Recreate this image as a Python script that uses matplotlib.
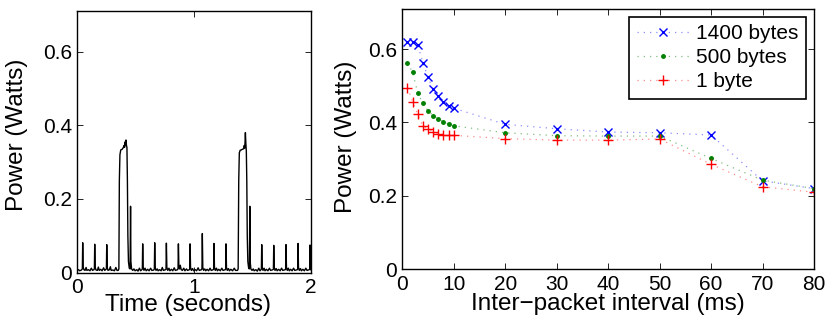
import matplotlib
matplotlib.use("Agg")
import matplotlib.pyplot as plt

plt.rcParams['font.family'] = ['Liberation Sans', 'DejaVu Sans']

# ---- Left panel: power trace (time s, power W) ----
trace_t = [
    0.000, 0.010, 0.020, 0.035, 0.043, 0.046, 0.050, 0.056, 0.066, 0.075, 0.082, 0.095, 0.108, 0.120, 0.130,
    0.142, 0.146, 0.149, 0.153, 0.160, 0.172, 0.180, 0.188, 0.200, 0.212, 0.225, 0.235,
    0.246, 0.249, 0.252, 0.256, 0.263, 0.275, 0.283, 0.290, 0.305, 0.318, 0.330, 0.340,
    0.350, 0.356, 0.360, 0.365, 0.372, 0.385, 0.395, 0.400, 0.405, 0.410, 0.413, 0.417, 0.421, 0.425,
    0.429, 0.433, 0.438, 0.445, 0.452, 0.456, 0.459, 0.465, 0.475, 0.485, 0.495, 0.510, 0.520, 0.532, 0.542,
    0.553, 0.557, 0.560, 0.564, 0.571, 0.580, 0.590, 0.603, 0.615, 0.628, 0.638,
    0.655, 0.660, 0.663, 0.667, 0.674, 0.685, 0.692, 0.705, 0.718, 0.728, 0.737,
    0.757, 0.760, 0.763, 0.767, 0.775, 0.785, 0.793, 0.806, 0.818, 0.830, 0.840,
    0.860, 0.863, 0.866, 0.870, 0.876, 0.882, 0.890, 0.900, 0.912, 0.922, 0.935, 0.945,
    0.960, 0.963, 0.966, 0.970, 0.977, 0.988, 0.996, 1.010, 1.022, 1.035, 1.045,
    1.065, 1.068, 1.071, 1.075, 1.082, 1.092, 1.100, 1.112, 1.125, 1.137, 1.147,
    1.165, 1.168, 1.171, 1.175, 1.182, 1.192, 1.200, 1.212, 1.225, 1.238, 1.248,
    1.268, 1.271, 1.274, 1.278, 1.285, 1.295, 1.303, 1.316, 1.330, 1.345, 1.355,
    1.372, 1.378, 1.383, 1.388, 1.395, 1.405, 1.415, 1.425, 1.430, 1.435, 1.440, 1.444, 1.448,
    1.452, 1.456, 1.461, 1.468, 1.474, 1.478, 1.481, 1.487, 1.497, 1.507, 1.515, 1.530, 1.542, 1.555, 1.565,
    1.574, 1.577, 1.580, 1.584, 1.591, 1.600, 1.608, 1.620, 1.633, 1.646, 1.656,
    1.677, 1.680, 1.683, 1.687, 1.694, 1.704, 1.712, 1.725, 1.738, 1.750, 1.760,
    1.782, 1.785, 1.788, 1.792, 1.799, 1.808, 1.816, 1.828, 1.840, 1.853, 1.863,
    1.885, 1.888, 1.891, 1.895, 1.902, 1.912, 1.920, 1.933, 1.945, 1.958, 1.968,
    1.988, 1.991, 1.994, 1.997, 2.000,
]
trace_p = [
    0.006, 0.008, 0.005, 0.007, 0.010, 0.081, 0.015, 0.008, 0.006, 0.014, 0.006, 0.008, 0.005, 0.012, 0.006,
    0.008, 0.010, 0.077, 0.014, 0.007, 0.006, 0.015, 0.006, 0.009, 0.005, 0.013, 0.006,
    0.009, 0.010, 0.076, 0.014, 0.006, 0.008, 0.016, 0.006, 0.007, 0.005, 0.014, 0.006,
    0.006, 0.010, 0.250, 0.320, 0.333, 0.335, 0.340, 0.345, 0.340, 0.355, 0.345, 0.360, 0.345, 0.340,
    0.250, 0.100, 0.030, 0.012, 0.010, 0.180, 0.030, 0.010, 0.006, 0.010, 0.005, 0.008, 0.004, 0.012, 0.005,
    0.008, 0.010, 0.078, 0.014, 0.006, 0.012, 0.005, 0.009, 0.005, 0.012, 0.006,
    0.007, 0.010, 0.081, 0.014, 0.006, 0.010, 0.005, 0.008, 0.005, 0.014, 0.006,
    0.008, 0.010, 0.080, 0.014, 0.006, 0.012, 0.005, 0.009, 0.005, 0.013, 0.006,
    0.008, 0.012, 0.078, 0.018, 0.010, 0.020, 0.008, 0.006, 0.012, 0.005, 0.010, 0.006,
    0.008, 0.010, 0.078, 0.014, 0.006, 0.011, 0.005, 0.008, 0.005, 0.013, 0.006,
    0.008, 0.012, 0.106, 0.014, 0.006, 0.010, 0.005, 0.009, 0.005, 0.012, 0.006,
    0.008, 0.010, 0.079, 0.014, 0.006, 0.012, 0.005, 0.009, 0.005, 0.012, 0.006,
    0.008, 0.010, 0.078, 0.014, 0.006, 0.011, 0.005, 0.009, 0.005, 0.012, 0.006,
    0.006, 0.010, 0.250, 0.325, 0.332, 0.333, 0.335, 0.336, 0.345, 0.338, 0.380, 0.350, 0.330,
    0.250, 0.100, 0.030, 0.012, 0.010, 0.180, 0.030, 0.010, 0.006, 0.010, 0.005, 0.008, 0.004, 0.012, 0.005,
    0.008, 0.010, 0.076, 0.014, 0.006, 0.012, 0.005, 0.009, 0.005, 0.012, 0.006,
    0.008, 0.010, 0.074, 0.014, 0.006, 0.011, 0.005, 0.009, 0.005, 0.012, 0.006,
    0.008, 0.010, 0.076, 0.014, 0.006, 0.012, 0.005, 0.009, 0.005, 0.012, 0.006,
    0.008, 0.010, 0.079, 0.014, 0.006, 0.011, 0.005, 0.009, 0.005, 0.012, 0.006,
    0.008, 0.010, 0.075, 0.014, 0.008,
]

# ---- Right panel: power vs inter-packet interval ----
interval_ms = [1, 2, 3, 4, 5, 6, 7, 8, 9, 10, 20, 30, 40, 50, 60, 70, 80]
power_1400 = [0.620, 0.620, 0.612, 0.562, 0.523, 0.490, 0.471, 0.457, 0.446, 0.439,
              0.395, 0.383, 0.374, 0.372, 0.366, 0.241, 0.220]
power_500 = [0.562, 0.537, 0.480, 0.452, 0.432, 0.419, 0.409, 0.402, 0.396, 0.391,
             0.372, 0.364, 0.363, 0.363, 0.302, 0.243, 0.220]
power_1 = [0.495, 0.457, 0.422, 0.390, 0.382, 0.375, 0.370, 0.367, 0.366, 0.365,
           0.356, 0.352, 0.352, 0.355, 0.286, 0.225, 0.210]
series_labels = ['1400 bytes', '500 bytes', '1 byte']

FS_TICK = 15
FS_LABEL = 17.5

fig = plt.figure(figsize=(8.28, 3.24), dpi=100)

def style(ax):
    for s in ax.spines.values():
        s.set_linewidth(1.0)
        s.set_color('black')
    ax.tick_params(direction='in', length=4, width=0.6, top=True, right=True,
                   labelsize=FS_TICK, pad=4)

# Left
ax1 = fig.add_axes([0.0934, 0.1586, 0.2819, 0.8074])
ax1.plot(trace_t, trace_p, color='black', lw=1.0)
ax1.set_xlim(0, 2)
ax1.set_ylim(0, 0.71)
ax1.set_xticks([0, 1, 2])
ax1.set_xticklabels(['0', '1', '2'])
ax1.set_yticks([0, 0.2, 0.4, 0.6])
ax1.set_yticklabels(['0', '0.2', '0.4', '0.6'])
style(ax1)
ax1.set_xlabel('Time (seconds)', fontsize=FS_LABEL)
ax1.set_ylabel('Power (Watts)', fontsize=FS_LABEL)
ax1.xaxis.set_label_coords(0.475, -0.08)
ax1.yaxis.set_label_coords(-0.211, 0.525)

# Right
ax2 = fig.add_axes([0.4859, 0.1688, 0.4972, 0.8043])
dots = (0, (1, 4))
ax2.plot(interval_ms, power_1400, ls=dots, lw=0.9, color=(0.55, 0.55, 1.0), marker='x',
         ms=6, mew=1.0, mec='blue', mfc='blue', label=series_labels[0])
ax2.plot(interval_ms, power_500, ls=dots, lw=0.9, color=(0.5, 0.75, 0.5), marker='.',
         ms=5, mec='green', mfc='green', label=series_labels[1])
ax2.plot(interval_ms, power_1, ls=dots, lw=0.9, color=(1.0, 0.55, 0.55), marker='+',
         ms=7, mew=1.0, mec='red', mfc='red', label=series_labels[2])
ax2.set_xlim(0, 80)
ax2.set_ylim(0, 0.71)
ax2.set_xticks(range(0, 81, 10))
ax2.set_yticks([0, 0.2, 0.4, 0.6])
ax2.set_yticklabels(['0', '0.2', '0.4', '0.6'])
style(ax2)
ax2.set_xlabel('Inter\u2212packet interval (ms)', fontsize=FS_LABEL)
ax2.set_ylabel('Power (Watts)', fontsize=FS_LABEL)
ax2.xaxis.set_label_coords(0.5, -0.09)
ax2.yaxis.set_label_coords(-0.11, 0.51)
leg = ax2.legend(loc='upper right', bbox_to_anchor=(0.98, 0.97), borderaxespad=0,
                 fontsize=FS_TICK, fancybox=False, framealpha=1, edgecolor='black',
                 handlelength=2.5, handletextpad=0.35, labelspacing=0.25, borderpad=0.35)
leg.get_frame().set_linewidth(1.2)

fig.savefig('out.png', dpi=100)
